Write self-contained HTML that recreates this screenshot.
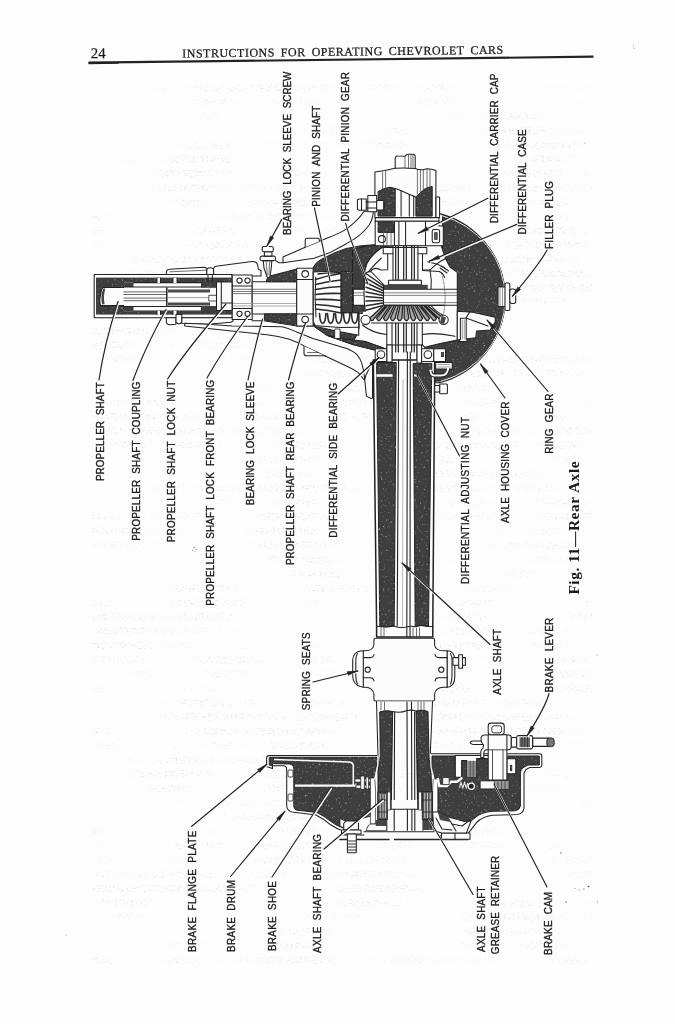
<!DOCTYPE html>
<html><head><meta charset="utf-8"><title>Instructions for Operating Chevrolet Cars - Fig. 11 Rear Axle</title>
<style>
html,body{margin:0;padding:0;background:#fdfdfd;}
body{width:675px;height:1024px;overflow:hidden;position:relative;font-family:"Liberation Sans",sans-serif;}
svg{position:absolute;left:0;top:0;display:block;filter:blur(0.35px);}
</style></head><body>
<svg width="675" height="1024" viewBox="0 0 675 1024">
<rect x="0" y="0" width="675" height="1024" fill="#fdfdfd"/>
<defs>
<filter id="gh" x="0" y="0" width="100%" height="100%" color-interpolation-filters="sRGB">
<feTurbulence type="fractalNoise" baseFrequency="0.45 0.6" numOctaves="2" seed="11" result="n"/>
<feColorMatrix in="n" type="matrix" values="0 0 0 0 0.6  0 0 0 0 0.6  0 0 0 0 0.6  3.2 0 0 0 -1.75" result="s"/>
<feTurbulence type="fractalNoise" baseFrequency="0.012 0.02" numOctaves="2" seed="4" result="m"/>
<feColorMatrix in="m" type="matrix" values="0 0 0 0 0  0 0 0 0 0  0 0 0 0 0  0 5 0 0 -2.2" result="mm"/>
<feComposite in="s" in2="mm" operator="in" result="sm"/>
<feComposite in="sm" in2="SourceAlpha" operator="in"/>
</filter>
</defs>
<g id="ghost" filter="url(#gh)" opacity="0.23">
<rect x="92" y="84.0" width="500" height="7.5"/>
<rect x="92" y="98.3" width="500" height="7.5"/>
<rect x="92" y="112.6" width="500" height="7.5"/>
<rect x="92" y="126.9" width="500" height="7.5"/>
<rect x="92" y="141.2" width="500" height="7.5"/>
<rect x="92" y="155.5" width="500" height="7.5"/>
<rect x="92" y="169.8" width="500" height="7.5"/>
<rect x="92" y="184.1" width="500" height="7.5"/>
<rect x="92" y="198.4" width="500" height="7.5"/>
<rect x="92" y="212.7" width="500" height="7.5"/>
<rect x="92" y="227.0" width="500" height="7.5"/>
<rect x="92" y="241.3" width="500" height="7.5"/>
<rect x="92" y="255.6" width="500" height="7.5"/>
<rect x="92" y="269.9" width="500" height="7.5"/>
<rect x="92" y="284.2" width="500" height="7.5"/>
<rect x="92" y="298.5" width="500" height="7.5"/>
<rect x="92" y="312.8" width="500" height="7.5"/>
<rect x="92" y="327.1" width="500" height="7.5"/>
<rect x="92" y="341.4" width="500" height="7.5"/>
<rect x="92" y="355.7" width="500" height="7.5"/>
<rect x="92" y="370.0" width="500" height="7.5"/>
<rect x="92" y="384.3" width="500" height="7.5"/>
<rect x="92" y="398.6" width="500" height="7.5"/>
<rect x="92" y="412.9" width="500" height="7.5"/>
<rect x="92" y="427.2" width="500" height="7.5"/>
<rect x="92" y="441.5" width="500" height="7.5"/>
<rect x="92" y="455.8" width="500" height="7.5"/>
<rect x="92" y="470.1" width="500" height="7.5"/>
<rect x="92" y="484.4" width="500" height="7.5"/>
<rect x="92" y="498.7" width="500" height="7.5"/>
<rect x="92" y="513.0" width="500" height="7.5"/>
<rect x="92" y="527.3" width="500" height="7.5"/>
<rect x="92" y="541.6" width="500" height="7.5"/>
<rect x="92" y="555.9" width="500" height="7.5"/>
<rect x="92" y="570.2" width="500" height="7.5"/>
<rect x="92" y="584.5" width="500" height="7.5"/>
<rect x="92" y="598.8" width="500" height="7.5"/>
<rect x="92" y="613.1" width="500" height="7.5"/>
<rect x="92" y="627.4" width="500" height="7.5"/>
<rect x="92" y="641.7" width="500" height="7.5"/>
<rect x="92" y="656.0" width="500" height="7.5"/>
<rect x="92" y="670.3" width="500" height="7.5"/>
<rect x="92" y="684.6" width="500" height="7.5"/>
<rect x="92" y="698.9" width="500" height="7.5"/>
<rect x="92" y="713.2" width="500" height="7.5"/>
<rect x="92" y="727.5" width="500" height="7.5"/>
<rect x="92" y="741.8" width="500" height="7.5"/>
<rect x="92" y="756.1" width="500" height="7.5"/>
<rect x="92" y="770.4" width="500" height="7.5"/>
<rect x="92" y="784.7" width="500" height="7.5"/>
<rect x="92" y="799.0" width="500" height="7.5"/>
<rect x="92" y="813.3" width="500" height="7.5"/>
<rect x="92" y="827.6" width="500" height="7.5"/>
<rect x="92" y="841.9" width="500" height="7.5"/>
<rect x="92" y="856.2" width="500" height="7.5"/>
<rect x="92" y="870.5" width="500" height="7.5"/>
<rect x="92" y="884.8" width="500" height="7.5"/>
<rect x="92" y="899.1" width="500" height="7.5"/>
<rect x="92" y="913.4" width="500" height="7.5"/>
<rect x="92" y="927.7" width="500" height="7.5"/>
<rect x="92" y="942.0" width="500" height="7.5"/>
<rect x="92" y="956.3" width="500" height="7.5"/>
</g>
<g id="specks" fill="#8a8a8a">
<circle cx="194" cy="547.5" r="0.8"/><circle cx="196.3" cy="549.6" r="0.7"/><circle cx="192.5" cy="550.3" r="0.6"/><circle cx="195" cy="551.3" r="0.5"/>
<circle cx="561" cy="853" r="0.7" fill="#555"/><circle cx="588.5" cy="886.5" r="0.8" fill="#444"/><circle cx="584" cy="889" r="0.6" fill="#555"/><circle cx="566" cy="902" r="0.7" fill="#555"/><circle cx="597.5" cy="902" r="0.6" fill="#666"/>
<circle cx="575" cy="888.5" r="0.6"/><circle cx="579" cy="890" r="0.6"/>
<circle cx="633.5" cy="46" r="0.6"/><circle cx="634" cy="48.5" r="0.5"/>
<circle cx="597" cy="655" r="0.6"/><circle cx="585" cy="143" r="0.6"/><circle cx="66" cy="935" r="0.6"/>
</g>
<g id="header" transform="rotate(-0.68 340 59)" font-family="Liberation Serif, serif" fill="#1a1a1a">
<text x="90.8" y="55.4" font-size="15" textLength="15" lengthAdjust="spacingAndGlyphs" stroke="#1a1a1a" stroke-width="0.2">24</text>
<text x="182.3" y="55.7" font-size="12" word-spacing="2.5" textLength="321" lengthAdjust="spacing" stroke="#1a1a1a" stroke-width="0.25">INSTRUCTIONS FOR OPERATING CHEVROLET CARS</text>
<rect x="88.5" y="58.6" width="505" height="2.1" fill="#222"/>
<rect x="88.5" y="59.6" width="30" height="1.6" fill="#222"/>
</g>
<defs>
<filter id="dk" x="-5%" y="-5%" width="110%" height="110%" color-interpolation-filters="sRGB">
<feTurbulence type="fractalNoise" baseFrequency="0.42" numOctaves="2" seed="7" result="n"/>
<feColorMatrix in="n" type="matrix" values="0 0 0 0 0.56  0 0 0 0 0.56  0 0 0 0 0.56  4.2 0 0 0 -2.62" result="s"/>
<feComposite in="s" in2="SourceAlpha" operator="in" result="s2"/>
<feMerge><feMergeNode in="SourceGraphic"/><feMergeNode in="s2"/></feMerge>
</filter>
<style>
.d{fill:#3e3e3e;stroke:#222;stroke-width:1;stroke-linejoin:round;filter:url(#dk)}
.dn{fill:#3e3e3e;stroke:none;filter:url(#dk)}
.w{fill:#fcfcfc;stroke:#222;stroke-width:1.05;stroke-linejoin:round}
.wn{fill:#fcfcfc;stroke:none}
.l{fill:none;stroke:#222;stroke-width:1.05;stroke-linecap:round;stroke-linejoin:round}
.lt{fill:none;stroke:#333;stroke-width:0.7;stroke-linecap:round}
.g{fill:none;stroke:#777;stroke-width:0.8}
</style>
</defs>
<g id="drawing">
<!-- ===== A: propeller shaft tube ===== -->
<g id="propshaft">
<rect class="w" x="94.2" y="274.4" width="138" height="43.4"/>
<rect class="dn" x="96" y="277.6" width="136" height="37"/>
<!-- shaft -->
<path class="w" d="M103,287.4 H232 V305.6 H100.5 Q99,300 101,293 Q101.5,288.5 103,287.4Z"/>
<path d="M103.2,288.6 Q100.4,296 102,304.2 L104.6,304.2 Q103,296 105.4,288.6Z" fill="#444"/>
<!-- coupling interior -->
<rect class="wn" x="124" y="282.6" width="92" height="28.6"/>
<rect class="dn" x="124" y="282.6" width="9.5" height="4.4"/>
<rect class="dn" x="124" y="306.5" width="9.5" height="4.7"/>
<rect class="dn" x="201" y="281" width="15.5" height="6.8"/>
<rect class="dn" x="201" y="306" width="15.5" height="6.8"/>
<path class="l" d="M124,287 H201 M124,306.4 H201 M133.5,282.6 H201 M133.5,311 H201"/>
<!-- left (narrow) shaft splines -->
<path class="g" d="M123.5,291.9 H166 M123.5,294.5 H166 M123.5,298.1 H166 M123.5,300.7 H166" style="stroke:#555;stroke-width:0.9"/>
<!-- right (joint) shaft: two dark bands -->
<path d="M168,290.9 H210 M168,304 H210" stroke="#4a4a4a" stroke-width="3" fill="none"/>
<path class="g" d="M168,297.6 H208" style="stroke:#888"/>
<path class="w" d="M208.8,295.3 H216 Q219.5,295.5 219.4,298.2 Q219.4,301 216,301 H208.8Z" style="stroke-width:0.8"/>
<path class="l" d="M166.8,288 V305.5" style="stroke-width:1.5"/>
<path class="l" d="M157,278 V282.6 M160.5,278 V282.6 M173,278 V282.6 M177,278 V282.6 M157,311 V314.5 M160.5,311 V314.5 M173,311 V314.5 M177,311 V314.5"/>
<rect class="wn" x="157.5" y="278" width="2.5" height="5"/><rect class="wn" x="173.5" y="278" width="3" height="5"/>
<rect class="wn" x="157.5" y="310.8" width="2.5" height="4"/><rect class="wn" x="173.5" y="310.8" width="3" height="4"/>
<!-- outer clamps above -->
<path class="w" d="M166.4,274.4 V272 Q166.8,269.3 169.5,269.3 L204,267.3 Q206.5,267.3 206.8,269.5 V274.4Z"/>
<path class="lt" d="M170,271.8 L206,270.2"/>
<path class="w" d="M206.8,274.4 V269 Q210,266.5 213.6,269 V274.4Z"/>
<path class="w" d="M213.6,274.4 V268.5 Q214,266.5 216,266.3 L252,261.6 Q256.5,261.5 257.5,264.5 L258.5,269.5 L261,270.5 V276 H232 V274.4Z"/>
<path class="l" d="M208,274.4 V282 M212.3,274.4 V282"/>
<!-- outer clamps below -->
<path class="w" d="M166.4,317.8 V322.5 Q167,325 170.5,324.7 L176,324.2 V317.8Z"/>
<path class="w" d="M176,314.5 H181.8 V322.5 Q179,325 176,322.5Z"/>
<path class="w" d="M181.8,317.8 V323.2 L207.8,324.2 L230.9,322.3 L233,321 V317.8Z"/>
</g>
<!-- ===== B: pinion housing ===== -->
<g id="pinion">
<!-- lower skin / strut band -->
<path class="w" d="M184.7,323.3 L207.8,324.2 L232,325.9 L282,326.7 Q290,328.5 296.7,331.9 L313,338.5 L330,343.5 L347.4,348.7 Q354,351.5 356.9,354.6 Q360.5,358.5 361.6,362.9 Q364,370 364.6,378.3 L366.4,396.1 L371,398.5 L372.5,398 L372.5,362 L366,375 L364.6,380 L362.8,378.3 Q360.5,375 358,372.4 Q353,369 347.4,366.5 L327.3,357 L304.1,345.9 Q297,342 289.3,339.3 Q278,336 267,334.8 L227,330.5 L184.7,326.1Z"/>
<path class="l" d="M252,320.7 H264 L297,326 L313.3,326"/>
<!-- bracket under web -->
<path class="w" d="M304,345.9 V353.5 Q304,355.8 306.5,355.8 H324.5 L326,356.4"/>
<path class="lt" d="M307.5,352.5 H319"/>
<!-- front bearing block -->
<rect class="w" x="232.2" y="275" width="20" height="44.4"/>
<path class="l" d="M232.2,286 H252.2 M232.2,308.5 H252.2"/>
<circle class="w" cx="239.5" cy="280.5" r="2.6"/><circle class="w" cx="247.5" cy="280.5" r="2.6"/>
<circle class="w" cx="239.5" cy="313.8" r="2.6"/><circle class="w" cx="247.5" cy="313.8" r="2.6"/>
<!-- inner step of shaft in front block -->
<path class="w" d="M216.5,282 H232 V310.5 H216.5Z"/>
<path class="l" d="M221.3,282 V310.5 M221.3,303 H232"/>
<!-- sleeve -->
<rect class="w" x="252.2" y="281.7" width="44.5" height="32.2"/>
<path class="g" d="M233,289.3 H297 M233,291.5 H297 M233,293.6 H297" style="stroke:#555"/>
<path class="g" d="M233,303.5 H297 M233,306 H297" style="stroke:#999"/>
<!-- dark above / below sleeve -->
<path class="d" d="M266,281.7 L268,276.5 L296.7,269 V281.7Z"/>
<path class="d" d="M264.4,313.9 H296.7 V325 L280,322.5 L264.4,320Z"/>
<!-- rear bearing -->
<rect class="w" x="296.7" y="268.3" width="16.6" height="57.7"/>
<path class="l" d="M296.7,279.5 H313.3 M296.7,314 H313.3"/>
<circle class="w" cx="305.2" cy="273.9" r="3.3"/><circle class="w" cx="305.2" cy="319.6" r="3.3"/>
<!-- grease fitting -->
<path class="w" d="M263.2,260.6 H271.8 L271.3,268 L270,276.5 Q268.5,278.4 267,276.5 L264,268Z"/>
<path class="w" d="M261.8,256.1 H273.8 Q275.6,256.3 275.6,258.4 Q275.6,260.4 273.8,260.6 H261.8 Q260,260.4 260,258.4 Q260,256.3 261.8,256.1Z"/>
<path class="w" d="M264.4,251.7 H271.9 V256.1 H264.4Z"/>
<path class="w" d="M263.6,246.5 H271.9 Q273.3,246.7 273.3,248 V250.3 Q273.3,251.6 271.9,251.7 H263.6 Q262.2,251.6 262.2,250.3 V248 Q262.2,246.7 263.6,246.5Z"/>
<path class="lt" d="M266.3,262 L267.3,275 M269.6,262 L269,275"/>
<path class="l" d="M275.6,260.6 L279.3,262.8 H283"/>
</g>
<!-- ===== C: differential housing ===== -->
<g id="diff">
<!-- brace from housing up to carrier bolt -->
<path class="w" d="M283,256.9 L305.2,247.2 L326.7,238.2 Q334,235.5 340,232.6 Q345,230 348,227.8 Q359,219.5 364,211.3 L373.3,211.3 Q373,219 369.3,224.7 Q363,233.5 353.3,239.6 Q347,243.5 340,247.2 L328.9,253.1 L314,258.3 L283,262.8Z"/>
<path class="w" d="M305.2,247.2 V240 Q305.3,238.3 307,238.3 H317.8 Q319.3,238.3 319.3,240 V241.3"/>
<!-- cover (big dark disc portion) -->
<path class="d" d="M442.5,215.2 A85.8,85.8 0 0 1 441,381 L426,381.5 L424.8,347.2 L440.2,343.4 L457.3,340 L457.3,272.3 L452.2,268.4 L445.4,258.6 L442.5,248.8Z"/>
<path class="l" d="M439.5,213.7 A87.3,87.3 0 0 1 439.5,382.7" style="stroke-width:1.2"/>
<path class="l" d="M441,215.3 A85.7,85.7 0 0 1 441,381.2" style="stroke:#fcfcfc;stroke-width:0.9"/>
<!-- housing dark body left of diff -->
<path class="d" d="M313.3,272 V267.3 Q316,262 321.3,259.3 Q334,252.5 345.3,248.7 Q360,245 374.7,244.7 L384,245 L384,262 L366,285 L366,312 L366,323 L386.2,349.1 L374.7,350 L353.3,344.7 L326.7,335.3 L313.3,326Z"/>
<!-- diff interior (white) -->
<path class="w" d="M383.2,246.6 Q372,254 367,263 Q364,270 364,278 V289.2 H353.3 V305.2 H364 V313.5 H359 V324 Q360,331 353.5,340.5 L365,341.4 L386.2,349.1 L387.2,345 H422.3 L424.8,347.2 L440.2,343.4 L457.3,340 V272.3 L450,267 L445.4,258.6 L441,245 Z"/>
<!-- ring gear white wedge -->
<path class="w" d="M457.3,311.3 L472.7,312.3 L495.2,317.2 L495.2,322 L490.3,329.9 L476.6,330.9 L475.7,337.7 L457.3,340Z"/>
<path class="l" d="M469.8,311.8 L466,318 L488,326"/>
<!-- ring gear bolt -->
<path class="w" d="M460.4,318.3 H466.2 V339.5 L468,341.4 H458.6 L460.4,339.5Z"/>
<path class="lt" d="M462.3,320 V339 M464.3,320 V339" style="stroke:#777"/>
<!-- pinion gear opening (white) -->
<path class="w" d="M313.3,272 L318,271.7 Q330,271 341,272.8 V312.7 H358.7 V335.3 L337.3,331.3 L316,326.5 L313.3,322Z"/>
<!-- dark bar right of pinion gear -->
<path class="d" d="M341.3,271.5 H352.5 V312.7 H341.3Z"/>
<!-- dark above/below cross shaft stub -->
<path class="d" d="M352.5,250 L366,246 L383.2,244.8 V246.6 Q372,254 367,263 Q364,270 364,278 V289.2 H352.5Z"/>
<path class="d" d="M352.5,305.2 H364 V312.7 H352.5Z"/>
<!-- thin dark sliver under case flange -->
<path class="d" d="M326.7,335.3 L345,339 L365,341.4 L386.2,349.1 L374.7,350 L353.3,344.7Z"/>
<!-- stud below pinion -->
<rect class="w" x="334.7" y="329" width="5.3" height="9.5" style="stroke-width:0.8"/>
<!-- filler plug -->
<rect class="w" x="498" y="287" width="7.5" height="19.4"/>
<path class="lt" d="M500,288 V306 M502.5,288 V306" style="stroke:#666"/>
<rect class="w" x="505" y="283" width="4.8" height="27.4" rx="1.2"/>
<rect class="w" x="509.8" y="288.9" width="5.9" height="14.6" rx="2.2"/>
</g>
<!-- ===== D: carrier top ===== -->
<g id="carrier">
<!-- nub -->
<path class="w" d="M395.2,168.7 V158 Q395.5,155.8 398,156 L405,156.2 Q406,154.2 409,154.3 H413 Q415.2,154.5 415.2,157 V168.7Z"/>
<path class="lt" d="M405,156.5 V168 M408.5,155 V167.5 M411,155 V167.5 M413,155.5 V167.5"/>
<!-- stub white -->
<path class="w" d="M374.9,217.6 V172 Q385,170.8 395,168.2 Q405,167.5 415,168.5 Q420,170.5 424,169.5 L427,168.8 Q432,169 435.9,170.5 V217.6Z"/>
<!-- dark left -->
<path class="d" d="M378.1,216.1 V191.5 Q384,188 390,187.2 L395.2,188.5 V216.1Z"/>
<!-- dark right -->
<path class="d" d="M415.9,216.1 V196.9 Q420,193 424,189.4 Q428,187 432.2,186.5 V216.1Z"/>
<path class="l" d="M395.2,188.5 Q398.9,189.4 403,191.5 Q409.3,194.6 415.9,196.9"/>
<path class="l" d="M401.1,190.5 V216 M409.3,194.6 V216 M413.7,196 V216" />
<path class="lt" d="M382.6,172 V189.5 M385.6,171.5 V188.5 M417.4,169.5 V194 M420.4,170 V191.5 M423.3,170 V189 M427,169.5 V187.5 M430,169.5 V186.5"/>
<rect class="w" x="436" y="196.9" width="3.6" height="20.7"/>
<!-- flange band -->
<rect class="w" x="375.2" y="217.6" width="63.7" height="3.7"/>
<!-- carrier cap -->
<path class="w" d="M375.2,221.3 H439 V226 H443.3 V245.7 H375.2Z"/>
<rect class="d" x="378.1" y="222" width="16.3" height="10.4"/>
<circle class="w" cx="381.9" cy="239.1" r="3.5"/>
<path class="l" d="M394.4,221.5 V245.5 M398.9,221.5 V245.5 M405.6,221.5 V245.5 M425.5,221.5 V245.5"/>
<path class="lt" d="M383.5,233 V245 M387,233 V245 M391,233 V245"/>
<!-- right cap bolt -->
<rect class="w" x="432.2" y="229.4" width="7.4" height="13.4" rx="1.8"/>
<rect class="dn" x="434" y="232" width="3.8" height="8" rx="1" style="fill:#555"/>
<!-- left bolt + lug -->
<path class="w" d="M367.8,195.4 H376.7 V211.7 H367.8Z"/>
<path class="w" d="M357.4,201 Q357.2,199 359.5,199 H366.3 V210.2 H359.5 Q357.2,210.2 357.4,208Z"/>
<path class="l" d="M366.3,202 H384 V208 H366.3 M361.5,199 V210.2"/>
<rect class="w" x="376.7" y="200.5" width="7" height="9.5" rx="1"/>
</g>
<!-- ===== E: differential interior details ===== -->
<g id="diffin">
<!-- drive pinion gear teeth -->
<path class="l" d="M315.8,277 Q314.3,297 316,317" />
<path class="l" d="M315.5,279.5 Q328,275.3 341,273.5 M315.5,284.5 Q328,281.1 341,280.0 M315.5,289.5 Q328,286.8 341,286.5 M315.5,294.5 Q328,292.8 341,293.5 M315.5,299.5 Q328,298.8 341,300.5 M315.5,304.5 Q328,304.8 341,307.5 M315.5,309.0 Q328,309.8 341,313.0 " style="stroke-width:1.7;stroke:#2a2a2a"/>
<path class="l" d="M318,274 Q329,272.5 340,273" style="stroke-width:1.3"/>
<!-- big teeth at bottom of pinion -->
<path class="l" d="M319.5,313.6 Q320.1,323.6 322.7,323.4 Q325.3,323.6 325.9,313.6 M327.5,313.6 Q328.1,323.6 330.7,323.4 Q333.3,323.6 333.9,313.6 M335.5,313.6 Q336.1,323.6 338.7,323.4 Q341.3,323.6 341.9,313.6 M343.5,313.6 Q344.1,323.6 346.7,323.4 Q349.3,323.6 349.9,313.6 M351.5,313.6 Q352.1,323.6 354.7,323.4 Q357.3,323.6 357.9,313.6 " style="stroke-width:1.6;stroke:#2a2a2a"/>
<path class="l" d="M316.5,325.8 L340,327.6 L358.7,327.2"/>
<!-- cross shaft -->
<rect class="w" x="353.3" y="289.2" width="104" height="16"/>
<path class="g" d="M354,292.8 H457 M354,295.4 H457 M384,302.6 H457" style="stroke:#666"/>
<!-- upper axle shaft in case -->
<rect class="w" x="393" y="245.7" width="24.9" height="34.6"/>
<path class="l" d="M395.7,246 V280 M398.3,246 V280 M403.7,246 V280 M406.3,246 V280 M411.7,246 V280 M414.3,246 V280" style="stroke-width:1.2"/>
<!-- case top hub -->
<path class="l" d="M383.2,247.4 H426.8 M383.2,247.4 V253.7 H387.7 V269.7 L381,270 Q374,266 370,272 M393,253.7 H387.7 M426.8,247.4 V253.7 H422.5 V269.7 L430,270 Q438,262 445,259 M417.9,253.7 H422.5"/>
<path class="l" d="M381.4,258 Q374.3,264.3 367.2,273.2"/>
<!-- upper side gear -->
<rect class="w" x="388.6" y="280.3" width="32.8" height="4.5"/>
<rect x="383" y="284.8" width="44.7" height="4.4" fill="#444"/>
<!-- diff pinion bevel gear (left) -->
<path class="w" d="M366,272.5 Q362,293 366,315.5 L371,315.5 L383.5,308.5 V284.5 L371,271.5Z"/>
<path class="l" d="M366,273.5 L383,285.5 M366,278.1 L383,288.0 M366,282.7 L383,290.5 M366,287.3 L383,293.0 M366,291.9 L383,295.5 M366,296.5 L383,298.0 M366,301.1 L383,300.5 M366,305.7 L383,303.0 M366,310.3 L383,305.5 M366,314.9 L383,308.0 " style="stroke-width:1.5;stroke:#2a2a2a"/>
<!-- lower side gear + ring gear teeth loops -->
<path class="wn" d="M384,305.2 H444.5 L446.3,313.2 V322.6 H362.8 V311.8 H371Z"/>
<path d="M382.9,306 L369.6,318.3 Q372.0,323 374.4,318.3 L385.5,306 M387.1,306 L376.5,318.3 Q378.9,323 381.3,318.3 L389.7,306 M391.4,306 L383.4,318.3 Q385.8,323 388.2,318.3 L394.0,306 M395.7,306 L390.3,318.3 Q392.7,323 395.1,318.3 L398.3,306 M400.0,306 L397.2,318.3 Q399.6,323 402.0,318.3 L402.6,306 M404.2,306 L404.1,318.3 Q406.5,323 408.9,318.3 L406.9,306 M408.5,306 L411.0,318.3 Q413.4,323 415.8,318.3 L411.1,306 M412.8,306 L417.9,318.3 Q420.3,323 422.7,318.3 L415.4,306 M417.1,306 L424.8,318.3 Q427.2,323 429.6,318.3 L419.7,306 M421.4,306 L431.7,318.3 Q434.1,323 436.5,318.3 L424.0,306 M425.6,306 L438.6,318.3 Q441.0,323 443.4,318.3 L428.2,306 " fill="#a5a5a5" stroke="#262626" stroke-width="1.3" stroke-linejoin="round"/>
<path class="l" d="M384,305.4 H444.5" style="stroke-width:1.3"/>
<path class="l" d="M371.7,323 H437.4"/>
<circle class="w" cx="365.6" cy="319.8" r="4.6"/>
<circle class="w" cx="443.6" cy="319.8" r="4.6"/>
<path class="dn" d="M441.5,316 L446,317.5 L444,324 L440,322.5Z" style="fill:#444"/>
<!-- lower hub + shaft -->
<path class="l" d="M386.8,323 V345 M392,323 V360 M417,323 V360 M422.3,323 V345"/>
<path class="l" d="M395.7,323 V352 M398.3,323 V352 M403.7,323 V352 M406.3,323 V352 M411.7,323 V352 M414.3,323 V352" style="stroke-width:1.2"/>
<path class="l" d="M386.8,334.6 Q372,333 362.5,325 M422.3,334.6 Q436,332 455,336.3"/>
<!-- misc case lines right -->
<path class="l" d="M430,270 Q432,280 431,289 M431,305.5 Q436,312 443,315"/>
<path class="l" d="M440,268 L447,273 M441.5,266 L448.5,271"/>
<path class="lt" d="M441.5,273 Q447.5,294 443.5,314" stroke-dasharray="2 1.2" style="stroke:#555"/>
<path class="l" d="M427.7,261.7 L437.4,264.3 L444.6,267.9 M422.5,270.4 L439.2,271.4 Q443.5,273 444.6,277.7"/>
</g>
<!-- ===== F: axle tube ===== -->
<g id="axletube">
<!-- outer white tube -->
<path class="w" d="M373.3,360 L376.6,626.5 L376.6,637 H432.8 V626.5 L434.6,383 L434.6,360Z" style="stroke-width:1.5"/>
<!-- dark walls -->
<path class="d" d="M376.6,362.5 H396.2 L394.2,626 Q386,627.5 379.8,626.2Z"/>
<path class="d" d="M413.2,363.4 H431.8 L428.5,626.4 Q420,624.5 415.2,626.6Z"/>
<!-- white stripe near top -->
<rect class="wn" x="376.5" y="374.2" width="16" height="2.6"/>
<rect class="wn" x="414" y="374.5" width="3" height="2"/>
<!-- axle lines -->
<path class="l" d="M398.6,360 L397.2,626 M407.4,352 L406.8,637 M410.3,352 L410,637" style="stroke-width:1.1"/>
<path class="lt" d="M403,380 L402.5,626" style="stroke:#999"/>
<!-- break line -->
<path class="l" d="M376.5,626.3 Q386,628 393.7,626 Q400,628.5 406,627 Q411,625.5 415.2,626.8 Q421,624.5 428.5,626.6 L432.8,626.5"/>
<path class="lt" d="M381,628 V637 M384,628 V637 M413,628 V637 M416.5,628 V637 M419.5,628 V637"/>
<!-- side bearings at top -->
<rect class="w" x="375.2" y="348.8" width="11.7" height="12.7"/>
<circle class="w" cx="381" cy="354.6" r="3.8"/>
<rect class="w" x="386.9" y="345" width="5.1" height="17"/>
<rect class="w" x="417" y="345" width="4.6" height="18"/>
<rect class="w" x="421.6" y="348.8" width="12.2" height="12.7"/>
<circle class="w" cx="427.9" cy="354.6" r="3.8"/>
<!-- adjusting nut + lock -->
<path class="w" d="M433.8,348.8 H445.5 V361.5 H433.8Z"/>
<rect class="dn" x="441" y="352" width="3" height="5" style="fill:#444"/>
<path class="w" d="M435.7,362.5 H452.3 V369 H435.7Z"/>
<path class="l" d="M438,364.5 H450 M438,367 H450" style="stroke:#777;stroke-width:0.7"/>
<path class="l" d="M448,369 Q447,375.5 441,375.5 H434 Q431,375 430.5,371" style="stroke:#fcfcfc;stroke-width:3"/>
<path class="l" d="M449.6,369 Q448.5,377 441,377 H434 Q429.5,376.5 429,371 M446.5,369 Q446,374 441,374 H434.5 Q432,373.8 432,371"/>
<!-- small bolt below cover -->
<rect class="w" x="439.6" y="384" width="7.8" height="9.7" rx="1"/>
<rect class="w" x="434.7" y="385.5" width="5" height="6.5"/>
<path class="l" d="M439.5,382.7 H434.7"/>
<!-- small left skin next to tube top -->
<path class="l" d="M373,362 V395"/>
</g>
<!-- ===== G: spring seat ===== -->
<g id="springseat">
<!-- lugs left -->
<path class="w" d="M360.5,651 Q353.2,652 352.7,660 V676.5 Q353.2,684.5 360.5,686.5 L363.5,687.2 V650.8Z"/>
<path class="l" d="M357.5,653.5 Q355.8,656 355.8,661 V676 Q355.8,681 357.5,684"/>
<!-- lugs right -->
<path class="w" d="M447,650.8 L449.5,651 Q454.6,652.5 454.8,660 V677 Q454.6,685 449.5,686.8 L447,687.2Z"/>
<path class="l" d="M450.5,653.5 Q452,656 452,661 V676 Q452,681 450.5,684"/>
<!-- pin -->
<path class="w" d="M452.9,657.6 H465.4 V665.3 H452.9Z"/>
<path class="w" d="M458.7,654.7 H462.5 V668.2 H458.7Z"/>
<!-- body (plus shape) -->
<path class="w" d="M375.5,638.3 H433 Q434.6,638.3 434.6,640 V645 Q435.5,650.5 443.5,650.8 H447.1 V687.2 H443.5 Q435.5,687.5 434.6,694.2 V699.5 Q434.6,701 433,701 H375.5 Q373.9,701 373.9,699.5 V694.2 Q373,687.5 365.2,687.2 H363.3 V650.8 H365.2 Q373,650.5 373.9,645 V640 Q373.9,638.3 375.5,638.3Z"/>
<path class="l" d="M363.3,657.6 H370.5 Q373.5,657.4 374,654.5 M363.3,677.8 H370.5 Q373.5,678 374,681 M447.1,657.6 H438.5 Q435.5,657.4 435,654.5 M447.1,677.8 H438.5 Q435.5,678 435,681"/>
<circle class="w" cx="367.7" cy="669.7" r="2.6"/>
<circle class="w" cx="441.3" cy="669.7" r="2.6"/>
<!-- tube below seat -->
<path class="wn" d="M376.5,701.6 H432.5 L430.3,760 H378Z"/>
<path class="l" d="M376.5,701.6 L378,756 M432.5,701.6 L430.3,754"/>
<path class="d" d="M379.7,712 Q386,709.5 392.6,711.5 L391.1,824 H375.8 L375.6,790 L375.2,779.6 L379,766 L380.3,756Z"/>
<path class="d" d="M416,711 Q422,709 428,711.5 L429,756 L430.3,768 L433.6,780 L432.6,790 V821 H417.8Z"/>
<path class="lt" d="M381,702 V710 M384.5,702 V710 M418,702 V710 M421,702 V710 M424,702 V710"/>
<path class="l" d="M394.6,712 L394.2,809 M407,702 L407.4,830 M411.5,702 L411.9,830 M414.6,712 L414.8,830" style="stroke-width:1.1"/>
<path class="l" d="M392.6,711.5 Q400,713.5 407,710.5 Q412,709.5 416,711"/>
</g>
<!-- ===== H: brake drum left ===== -->
<g id="drumL">
<path class="w" d="M378,755.6 H269 Q266.6,755.6 266.6,758 V766.5 L272.5,768.5 V765.8 H284 Q286.7,766 286.7,770 V805.8 Q287,811 292,812 L316,815 Q324,819 330.6,824.8 Q337,829 342.4,830.7 L347,832.5 H378 V800Z"/>
<path class="d" d="M269.3,757.6 H377 L376.3,767 L374.3,778 H370.4 V816 L360,819 L350,824.5 L343,828 Q336,825.5 331,821.5 Q324,816 317,812.5 L296,810 Q293.8,809 293.8,806 V768 Q293.5,764.5 290,764 L272.5,763.6 L272.5,766 L269.3,765Z"/>
<!-- drum wall rivets -->
<rect class="w" x="288" y="770" width="5" height="7" rx="1" style="stroke-width:0.8"/>
<rect class="w" x="288" y="794" width="5" height="7" rx="1" style="stroke-width:0.8"/>
<!-- white lines inside dark -->
<path d="M295,785.7 H357" stroke="#fcfcfc" stroke-width="2.2" fill="none"/>
<path d="M274,759.6 L349.5,762 Q353,762.5 353.3,765.5 V785" stroke="#fcfcfc" stroke-width="1.5" fill="none"/>
<!-- bolt -->
<rect class="w" x="354.8" y="778.9" width="16" height="3.2" style="stroke-width:0.8"/>
<rect class="w" x="356" y="785" width="14.4" height="3.4" style="stroke-width:0.8"/>
<rect class="w" x="360.7" y="776" width="3.7" height="13.3" style="stroke-width:0.8"/>
<rect class="w" x="366" y="777" width="2.6" height="12" style="stroke-width:0.8"/>
<!-- axle tube flare left -->
<path class="w" d="M370.4,778 H374.6 L375.6,790 V824 H370.4Z" style="stroke-width:0.7"/>
<path class="l" d="M378,755.6 L377.6,766 L374.6,779" style="stroke:#f0f0f0;stroke-width:1.3"/>
</g>
<!-- ===== I: brake drum right ===== -->
<g id="drumR">
<path class="w" d="M430.3,753.8 H539.5 Q541.8,753.8 541.8,756 V765.5 Q541.6,767.4 539.5,767.4 H530 L526,769.5 L524,773 V808 Q523.5,813.6 517,814.6 L492.4,815.3 Q482,816.8 476.5,822.6 Q472,828.6 466.4,835.6 L436,836 L432,800Z"/>
<path class="d" d="M432,756 H539.3 V765 H528 L522.5,768 L520.4,772 V806 Q519.6,810.3 515,810.8 L492,811.3 Q481,812.3 475,817.8 L471,821 L464,821.4 L447.4,816.7 L437.8,812 V779 L434.6,779 L431.6,768Z"/>
<!-- axle tube flare right -->
<path class="w" d="M433.2,779 H437.8 V820 H432.6 V790Z" style="stroke-width:0.7"/>
<path class="l" d="M430.3,753.8 L431,767 L434,779" style="stroke:#f0f0f0;stroke-width:1.3"/>
<!-- shoe U -->
<path class="w" d="M455.3,755.5 H489 V758.6 H476.7 V777.3 H466.9 V760.5 H461.6 V777.3 H455.3Z"/>
<rect x="467.6" y="761" width="8.4" height="16" fill="#8a8a8a"/>
<path class="lt" d="M470.3,761 V777 M473.2,761 V777" style="stroke:#444"/>
<!-- link and spring -->
<path d="M437.7,778 L439.3,786 H447 L451,781.8 H457 L462.4,777.6" stroke="#fcfcfc" stroke-width="2.4" fill="none"/>
<rect class="w" x="442.7" y="777.6" width="6.5" height="7" style="stroke-width:0.8"/>
<path d="M459.5,788 L461,782.5 L462.8,788 L464.5,782.5 L466.3,788 L467.8,783" stroke="#e6e6e6" stroke-width="1.1" fill="none"/>
<circle cx="471.3" cy="786.2" r="3.1" fill="#222" stroke="#fcfcfc" stroke-width="1.2"/>
<!-- cam -->
<rect class="w" x="480.2" y="780.9" width="28.5" height="8" style="stroke-width:0.8"/>
<rect x="494.4" y="781.3" width="14" height="7.2" fill="#999"/>
<path class="lt" d="M494.4,781 V789 M498,781 V789 M501.6,781 V789 M505,781 V789" style="stroke:#333"/>
</g>
<!-- ===== J: brake lever ===== -->
<g id="lever">
<!-- side attachment -->
<rect class="w" x="506.9" y="758.7" width="8.9" height="15.1" rx="1"/>
<rect class="dn" x="510" y="764.9" width="2.2" height="6.2" style="fill:#333"/>
<!-- left rod -->
<path class="w" d="M473,740.9 H483 V744.4 H473 Q470.4,744.2 470.4,742.6 Q470.4,741 473,740.9Z"/>
<!-- collar / bracket -->
<path class="w" d="M481.1,737.5 Q481.5,735.2 484,734.9 H509 Q511.3,735.2 511.3,737.5 V747 Q511,749.5 508.5,749.8 H486 Q484,750.5 483.8,753 V757.5 H480.8 V752 Q481,749 483,748 L483.6,745 Q481.2,743 481.1,740Z"/>
<!-- main body -->
<rect class="w" x="488.2" y="734.7" width="18.7" height="45.3"/>
<path class="l" d="M488.2,749.8 H506.9 M492.5,750 V780 M503,750 V780" style="stroke-width:0.8"/>
<!-- top cap -->
<rect class="w" x="488.2" y="723.1" width="16" height="11.6" rx="2.8"/>
<rect class="w" x="491.8" y="725.8" width="9.8" height="7.1" rx="2.2" style="stroke-width:0.9"/>
<!-- right arm -->
<rect class="w" x="511.3" y="737.5" width="5.4" height="9.6"/>
<rect class="w" x="516.7" y="735.6" width="16" height="13.3" rx="1.8"/>
<rect x="519.5" y="737.4" width="10.5" height="9.6" fill="#666"/>
<path class="lt" d="M522,737.4 V747 M524.8,737.4 V747 M527.5,737.4 V747" style="stroke:#222"/>
<rect class="w" x="532.7" y="738.2" width="16" height="8.2" style="stroke-width:1.2"/>
<rect x="546.9" y="738" width="7.2" height="8.6" rx="2.5" fill="#777" stroke="#222" stroke-width="1"/>
</g>
<!-- ===== K: hub ===== -->
<g id="hub">
<!-- shaft + hub white -->
<path class="wn" d="M391.1,800 H417.8 V809.3 H423 V830.5 H386.7 V809.3 H391.1Z"/>
<path class="l" d="M391.1,760 V809.3 H386.7 V830.5 M417.8,760 V809.3 H423 V830.5 M386.7,809.3 H423"/>
<path class="l" d="M394.2,809.3 V830.5 M407.4,809.3 V830.5 M411.9,809.3 V830.5 M414.8,809.3 V830.5" style="stroke-width:1.1"/>
<!-- bearings (dark with light lines) -->
<rect x="377.8" y="792.2" width="9.6" height="27.4" fill="#555" stroke="#222" stroke-width="0.8"/>
<path d="M380.2,794 V818 M383,794 V818 M385.4,794 V818" stroke="#d8d8d8" stroke-width="0.9" fill="none"/>
<path d="M377.8,800 H387.4 M377.8,812 H387.4" stroke="#222" stroke-width="0.8" fill="none"/>
<rect class="w" x="387.4" y="792" width="3" height="18" style="stroke-width:0.7"/>
<rect x="422.2" y="791.5" width="10.4" height="28.1" fill="#555" stroke="#222" stroke-width="0.8"/>
<path d="M424.8,793 V818 M427.5,793 V818 M430.2,793 V818" stroke="#d8d8d8" stroke-width="0.9" fill="none"/>
<path d="M422.2,800 H432.6 M422.2,812 H432.6" stroke="#222" stroke-width="0.8" fill="none"/>
<rect class="w" x="418.6" y="792" width="3" height="18" style="stroke-width:0.7"/>
<!-- hub flange -->
<path class="wn" d="M340,830.7 H440 V838.9 H340Z"/>
<path class="l" d="M364,831.7 H434 M343,835 H364"/>
<path d="M339.4,839.6 H389.6 M394,839.6 H468.3" stroke="#222" stroke-width="1.5" fill="none"/>
<rect class="w" x="441.5" y="833" width="28.5" height="6.3"/>
<path class="l" d="M455,833 V839.3"/>
<!-- left seal pieces -->
<path class="w" d="M370.4,824 H386.7 V830.7 H366 L368,826Z" style="stroke-width:0.8"/>
<path class="dn" d="M375.8,820 H386.7 V826 H375.8Z" style="fill:#444"/>
<path class="w" d="M340,818.5 L348,822.5 L346,829 L340,826Z" style="stroke-width:0.8"/>
<!-- stud -->
<path class="w" d="M343.7,823.5 L345.7,821 H356.5 L358.5,823.5 V830 H343.7Z"/>
<rect class="w" x="341.5" y="830" width="19.5" height="4"/>
<rect class="w" x="347.4" y="834" width="8.9" height="18.8" rx="1"/>
<path class="lt" d="M347.4,841 H356.3 M347.4,844 H356.3 M347.4,847 H356.3 M347.4,850 H356.3" style="stroke:#333;stroke-width:1"/>
<!-- grease retainer right -->
<path class="w" d="M432.6,812 L437.8,812 L447.4,816.7 L452,824 L462,826 L468,821.5 L471,821 L466.4,833 H441.5 L434,830.5Z"/>
<path class="l" d="M436,818 L442,829 L452,830 M452,824 L456,831"/>
<path class="dn" d="M437.8,812 L447.4,816.7 L450.5,822 L440,820Z" style="fill:#444"/>
<path class="dn" d="M423,821 H432.6 V830 H423Z" style="fill:#444"/>
</g>
</g>
<g id="leadunder" fill="none" stroke="#fcfcfc" stroke-width="2.0" stroke-linecap="butt" transform="translate(0.5 0.9)">
<path d="M281.6,219.6 L267.0,246.0"/>
<path d="M314.4,207.8 L330.0,280.6"/>
<path d="M345.6,223.3 Q352.0,245.0 368.0,284.0"/>
<path d="M487.8,198.2 L418.3,233.3"/>
<path d="M516.7,224.4 L429.4,261.1"/>
<path d="M547.0,250.0 Q541.0,262.0 512.5,296.2"/>
<path d="M99.0,380.0 Q104.0,345.0 118.0,301.5"/>
<path d="M133.0,380.5 Q144.0,350.0 166.0,309.5"/>
<path d="M167.6,379.0 Q186.0,350.0 226.0,304.0"/>
<path d="M207.0,378.0 Q224.0,348.0 248.0,316.0"/>
<path d="M248.0,380.0 Q254.0,350.0 262.5,319.0"/>
<path d="M288.5,380.0 Q296.0,350.0 305.5,323.0"/>
<path d="M338.0,394.0 L379.0,357.5"/>
<path d="M459.5,456.0 L417.0,375.0"/>
<path d="M505.0,398.0 L480.5,364.0"/>
<path d="M548.0,391.5 L487.0,320.0"/>
<path d="M313.0,682.0 L358.0,671.0"/>
<path d="M490.0,644.5 L402.0,563.0"/>
<path d="M549.0,693.5 Q546.0,706.0 527.0,736.0"/>
<path d="M191.5,826.5 L266.8,764.2"/>
<path d="M230.5,876.5 L284.8,811.3"/>
<path d="M272.0,877.0 L331.0,787.0"/>
<path d="M324.0,849.0 L383.0,799.0"/>
<path d="M473.0,894.5 L428.5,818.0"/>
<path d="M547.0,887.0 L494.0,784.0"/>
</g>
<g id="leaders" fill="none" stroke="#222" stroke-width="1.15" stroke-linecap="round">
<path d="M281.6,219.6 L267.0,246.0"/>
<path d="M314.4,207.8 L330.0,280.6"/>
<path d="M345.6,223.3 Q352.0,245.0 368.0,284.0"/>
<path d="M487.8,198.2 L418.3,233.3"/>
<path d="M516.7,224.4 L429.4,261.1"/>
<path d="M547.0,250.0 Q541.0,262.0 512.5,296.2"/>
<path d="M99.0,380.0 Q104.0,345.0 118.0,301.5"/>
<path d="M133.0,380.5 Q144.0,350.0 166.0,309.5"/>
<path d="M167.6,379.0 Q186.0,350.0 226.0,304.0"/>
<path d="M207.0,378.0 Q224.0,348.0 248.0,316.0"/>
<path d="M248.0,380.0 Q254.0,350.0 262.5,319.0"/>
<path d="M288.5,380.0 Q296.0,350.0 305.5,323.0"/>
<path d="M338.0,394.0 L379.0,357.5"/>
<path d="M459.5,456.0 L417.0,375.0"/>
<path d="M505.0,398.0 L480.5,364.0"/>
<path d="M548.0,391.5 L487.0,320.0"/>
<path d="M313.0,682.0 L358.0,671.0"/>
<path d="M490.0,644.5 L402.0,563.0"/>
<path d="M549.0,693.5 Q546.0,706.0 527.0,736.0"/>
<path d="M191.5,826.5 L266.8,764.2"/>
<path d="M230.5,876.5 L284.8,811.3"/>
<path d="M272.0,877.0 L331.0,787.0"/>
<path d="M324.0,849.0 L383.0,799.0"/>
<path d="M473.0,894.5 L428.5,818.0"/>
<path d="M547.0,887.0 L494.0,784.0"/>
</g>
<g id="heads" fill="#222" stroke="#222" stroke-width="0.5" stroke-linejoin="round"><path d="M267.0,246.0 L270.4,235.9 L273.7,237.7 Z"/><path d="M418.3,233.3 L426.8,226.9 L428.5,230.3 Z"/><path d="M429.4,261.1 L438.3,255.3 L439.8,258.8 Z"/><path d="M512.5,296.2 L517.8,286.9 L520.7,289.4 Z"/><path d="M379.0,357.5 L372.4,365.9 L369.9,363.1 Z"/><path d="M480.5,364.0 L488.2,371.4 L485.1,373.6 Z"/><path d="M487.0,320.0 L495.3,326.8 L492.4,329.2 Z"/><path d="M358.0,671.0 L348.3,675.3 L347.3,671.6 Z"/><path d="M402.0,563.0 L411.0,568.7 L408.4,571.5 Z"/><path d="M527.0,736.0 L531.0,726.1 L534.2,728.1 Z"/><path d="M266.8,764.2 L259.9,772.4 L257.5,769.4 Z"/><path d="M284.8,811.3 L279.5,820.6 L276.6,818.2 Z"/></g>
<g id="labels" font-family="Liberation Sans, sans-serif" font-size="11.6" fill="#1c1c1c" stroke="#1c1c1c" stroke-width="0.35" word-spacing="3.5">
<text transform="translate(291.2 234.9) rotate(-90) scale(0.85 1)" textLength="192.1" lengthAdjust="spacing">BEARING LOCK SLEEVE SCREW</text>
<text transform="translate(319.8 206.7) rotate(-90) scale(0.85 1)" textLength="118.9" lengthAdjust="spacing">PINION AND SHAFT</text>
<text transform="translate(348.8 221.6) rotate(-90) scale(0.85 1)" textLength="175.8" lengthAdjust="spacing">DIFFERENTIAL PINION GEAR</text>
<text transform="translate(497.5 223.3) rotate(-90) scale(0.85 1)" textLength="175.9" lengthAdjust="spacing">DIFFERENTIAL CARRIER CAP</text>
<text transform="translate(526.4 234.4) rotate(-90) scale(0.85 1)" textLength="123.6" lengthAdjust="spacing">DIFFERENTIAL CASE</text>
<text transform="translate(553.0 248.9) rotate(-90) scale(0.85 1)" textLength="79.8" lengthAdjust="spacing">FILLER PLUG</text>
<text transform="translate(104.3 481.1) rotate(-90) scale(0.85 1)" textLength="116.2" lengthAdjust="spacing">PROPELLER SHAFT</text>
<text transform="translate(140.0 540.7) rotate(-90) scale(0.85 1)" textLength="187.2" lengthAdjust="spacing">PROPELLER SHAFT COUPLING</text>
<text transform="translate(174.8 542.2) rotate(-90) scale(0.85 1)" textLength="189.9" lengthAdjust="spacing">PROPELLER SHAFT LOCK NUT</text>
<text transform="translate(213.6 605.7) rotate(-90) scale(0.85 1)" textLength="265.8" lengthAdjust="spacing">PROPELLER SHAFT LOCK FRONT BEARING</text>
<text transform="translate(253.9 505.2) rotate(-90) scale(0.85 1)" textLength="145.4" lengthAdjust="spacing">BEARING LOCK SLEEVE</text>
<text transform="translate(294.1 565.1) rotate(-90) scale(0.85 1)" textLength="215.9" lengthAdjust="spacing">PROPELLER SHAFT REAR BEARING</text>
<text transform="translate(336.5 537.7) rotate(-90) scale(0.85 1)" textLength="182.2" lengthAdjust="spacing">DIFFERENTIAL SIDE BEARING</text>
<text transform="translate(468.9 584.0) rotate(-90) scale(0.85 1)" textLength="196.5" lengthAdjust="spacing">DIFFERENTIAL ADJUSTING NUT</text>
<text transform="translate(509.0 523.0) rotate(-90) scale(0.85 1)" textLength="142.7" lengthAdjust="spacing">AXLE HOUSING COVER</text>
<text transform="translate(552.7 453.8) rotate(-90) scale(0.85 1)" textLength="70.8" lengthAdjust="spacing">RING GEAR</text>
<text transform="translate(310.4 710.2) rotate(-90) scale(0.85 1)" textLength="91.5" lengthAdjust="spacing">SPRING SEATS</text>
<text transform="translate(500.6 694.7) rotate(-90) scale(0.85 1)" textLength="77.4" lengthAdjust="spacing">AXLE SHAFT</text>
<text transform="translate(553.3 692.4) rotate(-90) scale(0.85 1)" textLength="87.8" lengthAdjust="spacing">BRAKE LEVER</text>
<text transform="translate(195.7 951.9) rotate(-90) scale(0.85 1)" textLength="142.6" lengthAdjust="spacing">BRAKE FLANGE PLATE</text>
<text transform="translate(235.3 951.9) rotate(-90) scale(0.85 1)" textLength="84.5" lengthAdjust="spacing">BRAKE DRUM</text>
<text transform="translate(275.8 951.1) rotate(-90) scale(0.85 1)" textLength="82.4" lengthAdjust="spacing">BRAKE SHOE</text>
<text transform="translate(320.9 952.9) rotate(-90) scale(0.85 1)" textLength="139.9" lengthAdjust="spacing">AXLE SHAFT BEARING</text>
<text transform="translate(484.8 951.9) rotate(-90) scale(0.85 1)" textLength="77.1" lengthAdjust="spacing">AXLE SHAFT</text>
<text transform="translate(499.0 954.2) rotate(-90) scale(0.85 1)" textLength="115.6" lengthAdjust="spacing">GREASE RETAINER</text>
<text transform="translate(551.9 954.9) rotate(-90) scale(0.85 1)" textLength="74.1" lengthAdjust="spacing">BRAKE CAM</text>
</g><g id="caption" font-family="Liberation Serif, serif" font-weight="bold" font-size="15.5" fill="#1a1a1a">
<text transform="translate(579.3 594.6) rotate(-90)" textLength="133.2" lengthAdjust="spacing">Fig. 11—Rear Axle</text>
</g>

</svg>
</body></html>
